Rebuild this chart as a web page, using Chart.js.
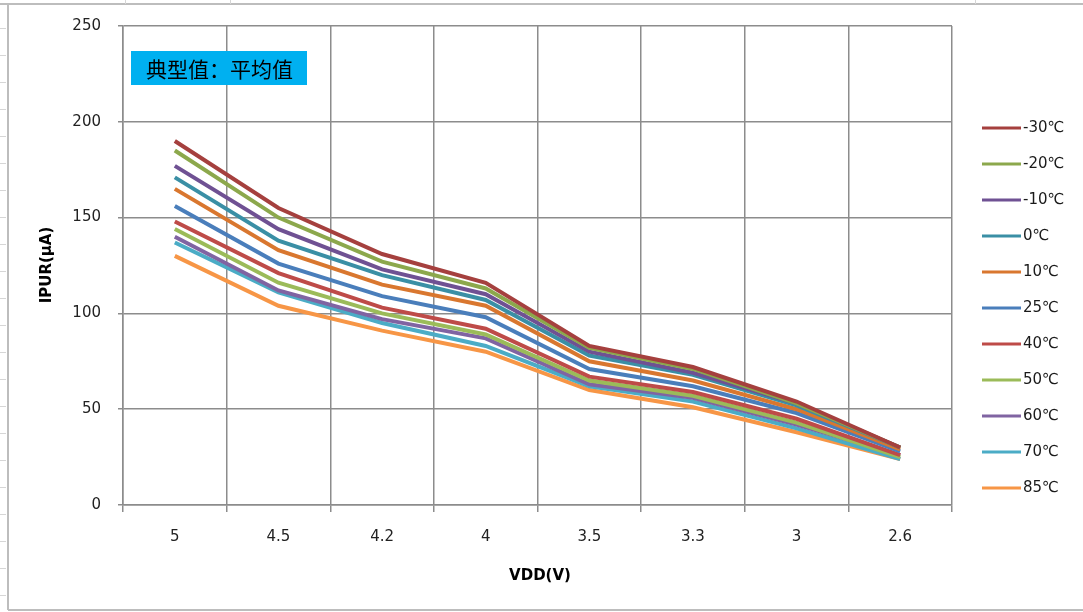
<!DOCTYPE html>
<html>
<head>
<meta charset="utf-8">
<script src="https://cdn.jsdelivr.net/npm/chart.js@4.4.1/dist/chart.umd.min.js"></script>
<style>
  html, body { margin: 0; padding: 0; background: #fff; }
  #wrap { width: 1083px; height: 612px; position: relative; }
</style>
</head>
<body>
<div id="wrap"><canvas id="c" width="1083" height="612"></canvas></div>
<script>
const vddLabels = ['5', '4.5', '4.2', '4', '3.5', '3.3', '3', '2.6'];
const yTicks = [0, 50, 100, 150, 200, 250];
const seriesNames = ['-30℃', '-20℃', '-10℃', '0℃', '10℃', '25℃', '40℃', '50℃', '60℃', '70℃', '85℃'];
const seriesColors = ['#A5403E', '#8CA84C', '#6F5193', '#3A8FA5', '#D9772F', '#4A7EBB', '#BE4B48', '#9BBB59', '#8064A2', '#4BACC6', '#F79646'];

const tM30 = [190, 155, 131, 116, 83, 72, 54, 30];
const tM20 = [185, 150, 127, 113, 82, 71, 53, 30];
const tM10 = [177, 144, 123, 110, 80, 69, 53, 30];
const t0   = [171, 138, 120, 107, 78, 68, 52, 30];
const t10  = [165, 133, 115, 104, 75, 65, 50, 29];
const t25  = [156, 126, 109, 98, 71, 62, 48, 28];
const t40  = [148, 121, 103, 92, 67, 59, 45, 26];
const t50  = [144, 116, 100, 89, 65, 57, 43, 25];
const t60  = [140, 112, 97, 87, 63, 56, 42, 26];
const t70  = [137, 111, 95, 83, 62, 54, 40, 24];
const t85  = [130, 104, 91, 80, 60, 51, 38, 24];
const seriesData = [tM30, tM20, tM10, t0, t10, t25, t40, t50, t60, t70, t85];

const titleText = '典型值：平均值';
const xTitle = 'VDD(V)';
const yTitle = 'IPUR(μA)';

const GRID = '#8C8C8C';
const FONT = '"DejaVu Sans", sans-serif';

// frame, title box, axis titles and legend drawn on top of the chart
const decor = {
  id: 'decor',
  beforeDraw(chart) {
    const c = chart.ctx;
    c.save();
    c.fillStyle = '#fff';
    c.fillRect(0, 0, chart.width, chart.height);
    // spreadsheet frame around the chart object
    c.strokeStyle = '#BDBDBD';
    c.lineWidth = 2;
    c.beginPath();
    c.moveTo(0, 4); c.lineTo(1083, 4);
    c.moveTo(8, 4); c.lineTo(8, 610);
    c.moveTo(8, 610); c.lineTo(1083, 610);
    c.stroke();
    c.strokeStyle = '#D6D6D6';
    c.lineWidth = 1;
    c.beginPath();
    for (let y = 28; y < 610; y += 27) { c.moveTo(0, y + 0.5); c.lineTo(6, y + 0.5); }
    c.moveTo(125.5, 0); c.lineTo(125.5, 4);
    c.moveTo(230.5, 0); c.lineTo(230.5, 4);
    c.moveTo(975.5, 0); c.lineTo(975.5, 4);
    c.stroke();
    c.restore();
  },
  afterDraw(chart) {
    const c = chart.ctx;
    c.save();
    // title box
    c.fillStyle = '#00B0F0';
    c.fillRect(131, 51, 176, 34);
    c.fillStyle = '#000';
    c.font = '21px "Noto Sans CJK SC", sans-serif';
    c.textBaseline = 'middle';
    c.textAlign = 'left';
    c.fillText(titleText, 146, 69);

    // axis titles
    c.font = 'bold 15px ' + FONT;
    c.textAlign = 'center';
    c.fillText(xTitle, 540, 576);
    c.translate(47, 265);
    c.rotate(-Math.PI / 2);
    c.fillText(yTitle, 0, 0);
    c.restore();

    // legend
    c.save();
    c.font = '15px ' + FONT;
    c.textBaseline = 'middle';
    c.textAlign = 'left';
    chart.data.datasets.forEach((ds, i) => {
      const y = 128 + i * 36;
      c.strokeStyle = ds.borderColor;
      c.lineWidth = 3;
      c.beginPath();
      c.moveTo(982, y); c.lineTo(1021, y);
      c.stroke();
      c.fillStyle = '#1a1a1a';
      c.fillText(ds.label, 1023, y);
    });
    c.restore();
  }
};

new Chart(document.getElementById('c'), {
  type: 'line',
  data: {
    labels: vddLabels,
    datasets: seriesNames.map((name, i) => ({
      label: name,
      data: seriesData[i],
      borderColor: seriesColors[i],
      backgroundColor: seriesColors[i],
      borderWidth: 4,
      pointRadius: 0,
      tension: 0,
      fill: false,
    }))
  },
  options: {
    responsive: false,
    animation: false,
    layout: { padding: { left: 8, top: 25, right: 131, bottom: 0 } },
    plugins: { legend: { display: false }, tooltip: { enabled: false } },
    scales: {
      x: {
        type: 'category',
        offset: true,
        grid: { offset: true, color: GRID, lineWidth: 1.5, tickLength: 7, drawTicks: true },
        border: { color: GRID, width: 1.5 },
        ticks: { color: '#222', font: { family: FONT, size: 15 }, padding: 16, maxRotation: 0 },
        afterFit: s => { s.height = 107; },
      },
      y: {
        min: 0, max: 250,
        afterBuildTicks: s => { s.ticks = yTicks.map(v => ({ value: v })); },
        grid: { color: GRID, lineWidth: 1.5, tickLength: 5 },
        border: { color: GRID, width: 1.5 },
        ticks: { color: '#222', font: { family: FONT, size: 15 }, padding: 17 },
        afterFit: s => { s.width = 115; },
      }
    }
  },
  plugins: [decor]
});
</script>
</body>
</html>
